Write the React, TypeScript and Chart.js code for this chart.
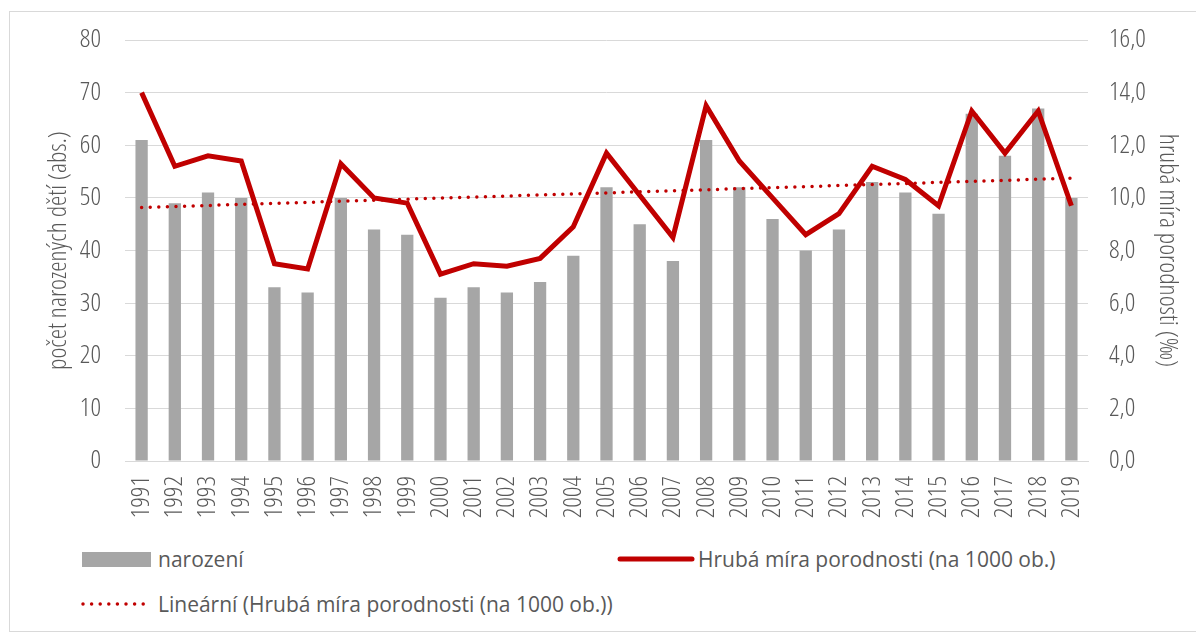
import React, { useEffect, useRef } from "react";
import { Chart, registerables } from "chart.js";

Chart.register(...registerables);

const years = [
  "1991", "1992", "1993", "1994", "1995", "1996", "1997", "1998", "1999", "2000",
  "2001", "2002", "2003", "2004", "2005", "2006", "2007", "2008", "2009", "2010",
  "2011", "2012", "2013", "2014", "2015", "2016", "2017", "2018", "2019",
];

const births = [
  61, 49, 51, 50, 33, 32, 50, 44, 43, 31,
  33, 32, 34, 39, 52, 45, 38, 61, 52, 46,
  40, 44, 53, 51, 47, 66, 58, 67, 50,
];

const birthRate = [
  14.0, 11.2, 11.6, 11.4, 7.5, 7.3, 11.3, 10.0, 9.8, 7.1,
  7.5, 7.4, 7.7, 8.9, 11.7, 10.1, 8.5, 13.5, 11.4, 10.0,
  8.6, 9.4, 11.2, 10.7, 9.7, 13.3, 11.7, 13.3, 9.7,
];

const seriesBirths = "narození";
const seriesRate = "Hrubá míra porodnosti (na 1000 ob.)";
const seriesTrend = "Lineární (Hrubá míra porodnosti (na 1000 ob.))";
const leftTitle = "počet narozených dětí (abs.)";
const rightTitle = "hrubá míra porodnosti (‰)";

// least-squares linear trend of the birth-rate series (Excel "Lineární" trendline)
function linearTrend(values: number[]): number[] {
  const n = values.length;
  let sx = 0, sy = 0, sxy = 0, sxx = 0;
  values.forEach((v, i) => {
    sx += i; sy += v; sxy += i * v; sxx += i * i;
  });
  const slope = (n * sxy - sx * sy) / (n * sxx - sx * sx);
  const icpt = (sy - slope * sx) / n;
  return values.map((_, i) => icpt + slope * i);
}

const TICK_FONT = "'Open Sans', sans-serif";
const TICK_WEIGHT = "300 condensed";
const LEGEND_FONT = "'Open Sans', sans-serif";
const TEXT = "#595959";
const RED = "#c00000";
const GRAY = "#a6a6a6";
const GRID = "#d9d9d9";

export default function App() {
  const ref = useRef<HTMLCanvasElement | null>(null);

  useEffect(() => {
    document.body.style.overflow = "hidden";
    const ctx = ref.current!.getContext("2d")!;
    const tickFont = { family: TICK_FONT, size: 26, weight: TICK_WEIGHT };
    const titleFont = { family: TICK_FONT, size: 26, weight: TICK_WEIGHT };
    const fixVertical = (w: number) => (s: any) => {
      s.width = w;
      s.paddingTop = 0;
      s.paddingBottom = 0;
    };
    const chart = new Chart(ctx, {
      data: {
        labels: years,
        datasets: [
          {
            type: "line",
            label: seriesRate,
            data: birthRate,
            yAxisID: "y1",
            borderColor: RED,
            borderWidth: 5,
            pointRadius: 0,
            tension: 0,
            order: 1,
          },
          {
            type: "line",
            label: seriesTrend,
            data: linearTrend(birthRate),
            yAxisID: "y1",
            borderColor: RED,
            borderWidth: 3.5,
            borderDash: [0, 8.6],
            borderCapStyle: "round",
            pointRadius: 0,
            order: 2,
          },
          {
            type: "bar",
            label: seriesBirths,
            data: births,
            yAxisID: "y",
            backgroundColor: GRAY,
            categoryPercentage: 1,
            barPercentage: 0.37,
            order: 3,
          },
        ],
      },
      options: {
        animation: false,
        responsive: false,
        devicePixelRatio: 1,
        layout: { padding: { top: 28, left: 0, right: 0, bottom: 0 } },
        plugins: { legend: { display: false }, tooltip: { enabled: false } },
        scales: {
          x: {
            grid: { display: false, drawTicks: false },
            border: { display: true, color: GRID, width: 1 },
            ticks: {
              autoSkip: false,
              minRotation: 90,
              maxRotation: 90,
              padding: 15,
              color: TEXT,
              font: tickFont,
            },
            afterFit: (s: any) => { s.height = 71; s.paddingLeft = 0; s.paddingRight = 0; },
          },
          y: {
            position: "left",
            min: 0,
            max: 80,
            ticks: {
              stepSize: 10,
              padding: 24,
              color: TEXT,
              font: tickFont,
            },
            grid: { color: GRID, lineWidth: 1, drawTicks: false },
            border: { display: false },
            title: {
              display: true,
              text: leftTitle,
              color: TEXT,
              font: titleFont,
              padding: { top: 33, bottom: 0 },
            },
            afterFit: fixVertical(115),
          },
          y1: {
            position: "right",
            min: 0,
            max: 16,
            ticks: {
              stepSize: 2,
              padding: 21,
              color: TEXT,
              font: tickFont,
              callback: (v: any) => Number(v).toFixed(1).replace(".", ","),
            },
            grid: { drawOnChartArea: false, drawTicks: false },
            border: { display: false },
            title: {
              display: true,
              text: rightTitle,
              color: TEXT,
              font: titleFont,
              padding: { top: 21, bottom: 0 },
            },
            afterFit: fixVertical(116),
          },
        },
      },
    } as any);
    return () => chart.destroy();
  }, []);

  const textStyle = (left: number, cy: number): React.CSSProperties => ({
    position: "absolute",
    left,
    top: cy - 14,
    lineHeight: "28px",
    fontSize: 21,
    fontFamily: LEGEND_FONT,
    color: TEXT,
    whiteSpace: "nowrap",
  });

  return (
    <div style={{ padding: "3px 0 0 1px" }}>
      <div
        style={{
          position: "relative",
          width: 1195,
          height: 621,
          boxSizing: "border-box",
          border: `1px solid ${GRID}`,
          background: "#fff",
        }}
      >
        <canvas
          ref={ref}
          width={1194}
          height={520}
          style={{ position: "absolute", left: 0, top: 0, width: 1194, height: 520 }}
        />
        <div style={{ position: "absolute", left: 72, top: 540, width: 69, height: 15, background: GRAY }} />
        <div style={textStyle(148, 547)}>{seriesBirths}</div>
        <svg style={{ position: "absolute", left: 606, top: 537 }} width={80} height={20}>
          <line x1={4} y1={10} x2={76} y2={10} stroke={RED} strokeWidth={5} strokeLinecap="round" />
        </svg>
        <div style={textStyle(688, 547)}>{seriesRate}</div>
        <svg style={{ position: "absolute", left: 68, top: 582 }} width={72} height={20}>
          <line x1={5} y1={10} x2={68} y2={10} stroke={RED} strokeWidth={3.5} strokeLinecap="round" strokeDasharray="0 8.6" />
        </svg>
        <div style={textStyle(148, 592)}>{seriesTrend}</div>
      </div>
    </div>
  );
}
